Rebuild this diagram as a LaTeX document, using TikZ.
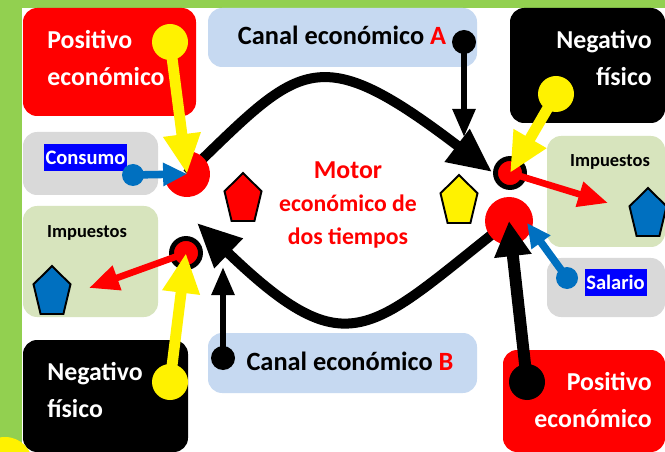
\documentclass[tikz,border=0pt]{standalone}
\usepackage{fontspec}
\setmainfont{Carlito}
\usetikzlibrary{arrows.meta}

\definecolor{verdebarra}{HTML}{92D050}
\definecolor{azulclaro}{HTML}{C6D9F1}
\definecolor{verdeclaro}{HTML}{D7E4BD}
\definecolor{grisclaro}{HTML}{D9D9D9}
\definecolor{azulpunto}{HTML}{0070C0}

\begin{document}
\begin{tikzpicture}[x=0.02cm, y=-0.02cm,
  caja/.style={rounded corners=8pt},
  grande/.style={font=\fontsize{14.7}{21}\selectfont\bfseries, text=white, inner sep=0pt},
  canal/.style={font=\fontsize{15}{18}\selectfont\bfseries, inner sep=0pt},
  chico/.style={font=\fontsize{10.5}{12}\selectfont\bfseries, inner sep=0pt},
  resalte/.style={font=\fontsize{11.7}{13}\selectfont\bfseries, text=white, fill=blue, inner xsep=1pt, inner ysep=0pt, minimum height=15pt},
  motor/.style={font=\fontsize{13.5}{19}\selectfont\bfseries, text=red, inner sep=0pt, align=center},
  curva/.style={line width=5.7pt, -{Triangle[length=25pt,width=22pt]}},
  flechaamarilla/.style={yellow, line width=6.2pt, -{Triangle[length=22.7pt,width=20pt]}},
  flechaazul/.style={azulpunto, line width=4.3pt, -{Triangle[length=13.6pt,width=12.5pt]}},
  flecharoja/.style={red, line width=3.8pt, -{Triangle[length=17pt,width=14pt]}},
  flechanegra/.style={line width=3.4pt, -{Triangle[length=16pt,width=12.5pt]}},
  flechagruesa/.style={line width=6.8pt, -{Triangle[length=20pt,width=20pt]}},
  anillo/.style={fill=red, draw=black, line width=2.8pt},
  penta/.style={draw=black, line width=1.1pt},
  pentagono/.pic={\path[pic actions] (0,-24) -- (18.5,-5.7) -- (11.4,24) -- (-11.4,24) -- (-18.5,-5.7) -- cycle;}
]
\useasboundingbox (0,0) rectangle (665,452);
\clip (0,0) rectangle (665,452);
\fill[white] (0,0) rectangle (665,452);

% marco verde
\fill[verdebarra] (0,0) rectangle (665,8);
\fill[verdebarra] (0,0) rectangle (22,452);
\fill[yellow] (5,465) circle (28);

% cajas
\fill[red, caja] (23,8) rectangle (196,116);
\fill[azulclaro, caja] (208,8) rectangle (477,67);
\fill[black, caja] (510,8) rectangle (665,123);
\fill[grisclaro, caja] (23,132) rectangle (158,195);
\fill[verdeclaro, caja] (23,206) rectangle (158,317);
\fill[black, caja] (23,340) rectangle (188,452);
\fill[azulclaro, caja] (208,333) rectangle (477,393);
\fill[verdeclaro, caja] (547,136) rectangle (665,247);
\fill[grisclaro, caja] (547,258) rectangle (665,317);
\fill[red, caja] (503,350) rectangle (665,452);

% textos
\node[grande, anchor=west, align=left] (posA) at (47,58) {Positivo\\económico};
\node[grande, anchor=east, align=right] (negA) at (652,58) {Negativo\\físico};
\node[grande, anchor=west, align=left] (negB) at (47,390) {Negativo\\físico};
\node[grande, anchor=east, align=right] (posB) at (652,400) {Positivo\\económico};
\node[canal, anchor=base] (canalA) at (342,45) {Canal económico \textcolor{red}{A}};
\node[canal, anchor=base] (canalB) at (350,370) {Canal económico \textcolor{red}{B}};
\node[chico, anchor=base] (impA) at (87,237) {Impuestos};
\node[chico, anchor=base] (impB) at (610,167) {Impuestos};
\node[resalte] (consumo) at (85.5,157.5) {Consumo};
\node[resalte] (salario) at (615.5,282.5) {Salario};
\node[motor] (motorT) at (348,205) {{\fontsize{14.7}{19}\selectfont Motor}\\económico de\\dos tiempos};

% puntos
\coordinate (cL) at (187,174);
\coordinate (anilloL) at (186,253);
\coordinate (anilloR) at (510,173);
\coordinate (cR) at (509,221);
\coordinate (amA) at (170,42);
\coordinate (amB) at (556,94);
\coordinate (amC) at (170,382);
\coordinate (azA) at (133,175);
\coordinate (azB) at (567,278);
\coordinate (azPunta) at (527,223);
\coordinate (neA) at (464,42);
\coordinate (neB) at (223,358);
\coordinate (neC) at (527,382);
\coordinate (puntaA) at (464,137);
\coordinate (puntaB) at (223,267);
\coordinate (rojoR) at (608,203);
\coordinate (rojoL) at (89,288);
\coordinate (arcoR) at (492,172);
\coordinate (arcoL) at (197,223);

% ciclo del motor
\draw[curva] (cL) .. controls (300,65) and (315,37) .. (arcoR);
\draw[curva] (cR) .. controls (370,330) and (350,370) .. (arcoL);

% pentagonos
\pic[penta, fill=red] at (243,197) {pentagono};
\pic[penta, fill=yellow] at (459,199) {pentagono};
\pic[penta, fill=azulpunto] at (52,290) {pentagono};
\pic[penta, fill=azulpunto] at (648,212) {pentagono};

% circulos
\fill[red] (cL) -- ++(265:23) arc[start angle=265, end angle=550, radius=23] -- cycle;
\fill[red] (cR) circle (24);
\filldraw[anillo] (anilloL) circle (14.5);
\filldraw[anillo] (anilloR) circle (14.5);

% flechas
\draw[flecharoja] (anilloR) -- (rojoR);
\draw[flecharoja] (anilloL) -- (rojoL);
\fill[yellow] (amA) circle (18);
\draw[flechaamarilla] (amA) -- (cL);
\fill[yellow] (amB) circle (18);
\draw[flechaamarilla] (amB) -- (anilloR);
\fill[yellow] (amC) circle (18);
\draw[flechaamarilla] (amC) -- (anilloL);
\fill[azulpunto] (azA) circle (11);
\draw[flechaazul] (azA) -- (cL);
\fill[azulpunto] (azB) circle (11);
\draw[flechaazul] (azB) -- (azPunta);
\fill (neA) circle (12);
\draw[flechanegra] (neA) -- (puntaA);
\fill (neB) circle (12);
\draw[flechanegra] (neB) -- (puntaB);
\fill (neC) circle (18);
\draw[flechagruesa] (neC) -- (cR);

\end{tikzpicture}
\end{document}
